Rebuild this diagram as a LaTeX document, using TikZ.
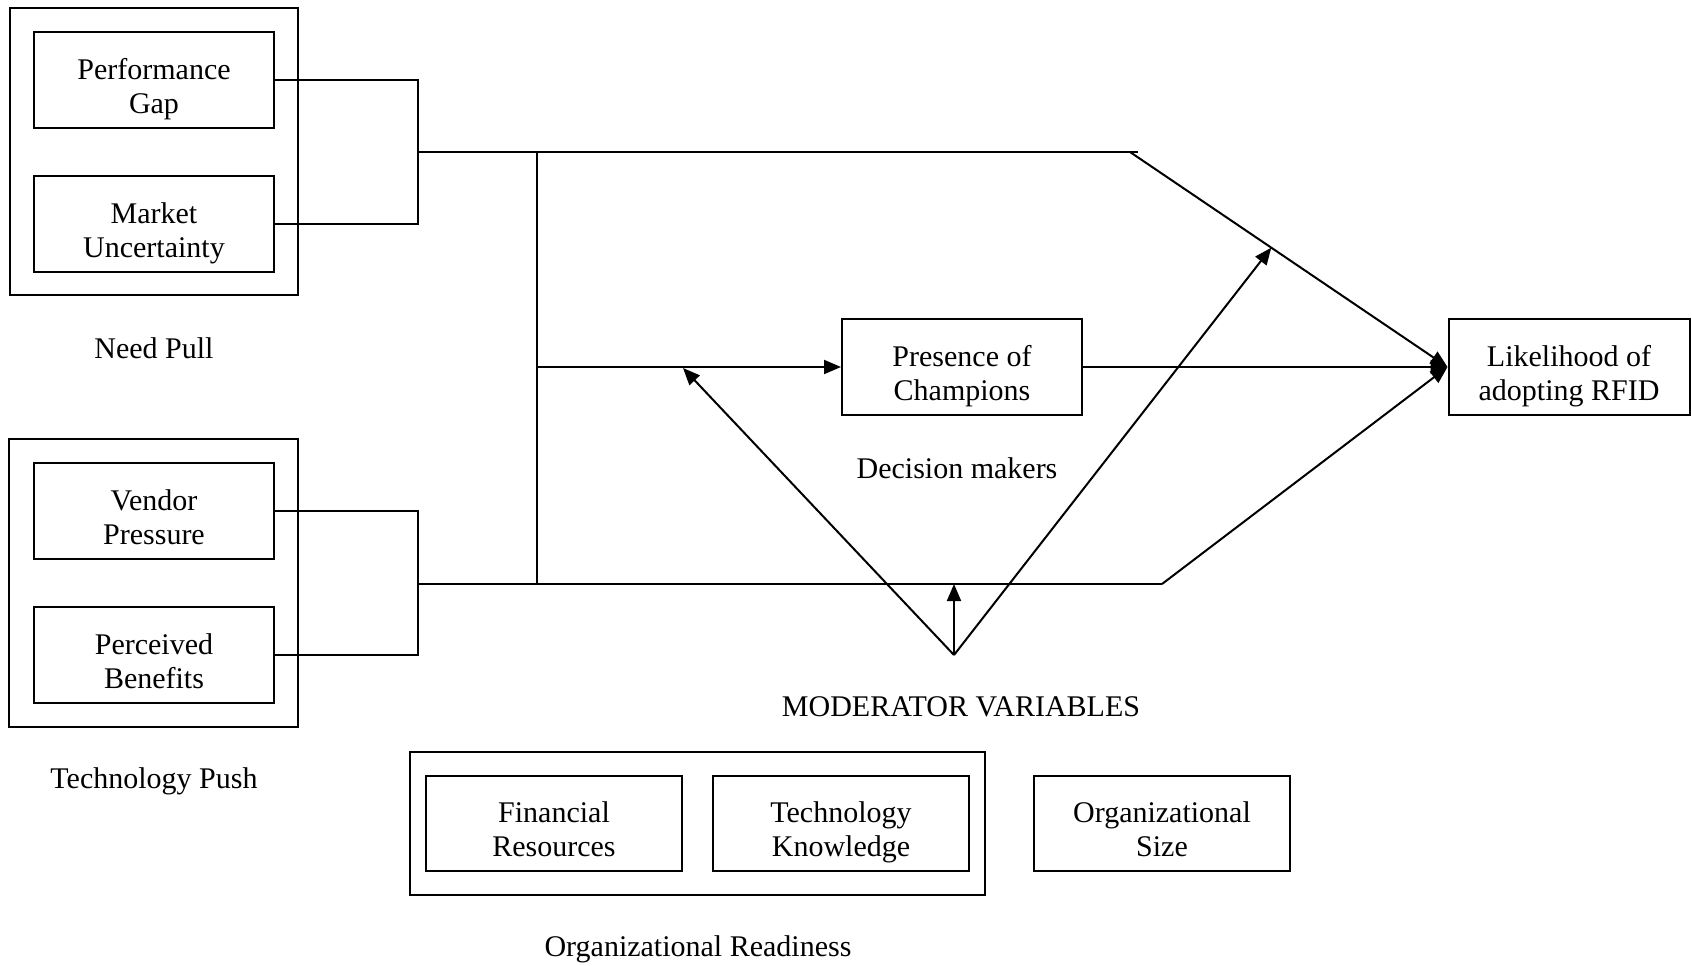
\documentclass[tikz,border=0pt]{standalone}
\usepackage{fontspec}
\setmainfont{Liberation Serif}
\usetikzlibrary{arrows.meta}

\begin{document}
\begin{tikzpicture}[x=1pt, y=-1pt, line width=2pt,
    font=\fontsize{30}{33.5}\selectfont,
    box/.style={draw, minimum width=240pt, minimum height=96pt, align=center, inner sep=0pt,
      text height=66pt, text depth=0pt},
    wbox/.style={box, minimum width=256pt, minimum height=95pt},
    arw/.style={-{Triangle[length=17pt,width=14pt]}}]
  \useasboundingbox (0,0) rectangle (1692,966);
  % left groups
  \draw (10,8) rectangle (298,295);
  \node[box] (pg) at (154,80) {Performance\\Gap};
  \node[box] (mu) at (154,224) {Market\\Uncertainty};
  \node (np) at (154,348) {Need Pull};
  \draw (9,439) rectangle (298,727);
  \node[box] (vp) at (154,511) {Vendor\\Pressure};
  \node[box] (pb) at (154,655) {Perceived\\Benefits};
  \node (tp) at (154,781) {Technology Push};
  % middle and right
  \node[box] (pc) at (962,367) {Presence of\\Champions};
  \node (dm) at (957,468) {Decision makers};
  \node[box, minimum width=241pt] (lk) at (1569,367) {Likelihood of\\adopting RFID};
  \node (mv) at (961,707) {MODERATOR VARIABLES};
  % moderators
  \draw (410,752) rectangle (985,895);
  \node[wbox] (fr) at (554,823) {Financial\\Resources};
  \node[wbox] (tk) at (841,823) {Technology\\Knowledge};
  \node[wbox] (os) at (1162,823) {Organizational\\Size};
  \node (or) at (698,949) {Organizational Readiness};
  % joints
  \coordinate (NJ) at (418,152);
  \coordinate (TJ) at (418,584);
  \coordinate (VT) at (537,152);
  \coordinate (VB) at (537,584);
  \coordinate (VM) at (537,367);
  \coordinate (TE) at (1138,152);
  \coordinate (TB) at (1130,152);
  \coordinate (BB) at (1162,584);
  \coordinate (AP) at (954,655);
  % connectors
  \draw (pg.east) -| (NJ) |- (mu.east);
  \draw (vp.east) -| (TJ) |- (pb.east);
  \draw (NJ) -- (TE);
  \draw (TJ) -- (BB);
  \draw (VT) -- (VB);
  \draw[arw] (VM) -- (pc.west);
  \draw[arw] (pc.east) -- (lk.west);
  \draw[arw] (TB) -- coordinate[pos=0.445] (MT) (lk.west);
  \draw[arw] (BB) -- (lk.west);
  \draw[arw] (AP) -- (683,368);
  \draw[arw] (AP) -- (MT);
  \draw[arw] (AP) -- (AP |- VB);
\end{tikzpicture}
\end{document}
